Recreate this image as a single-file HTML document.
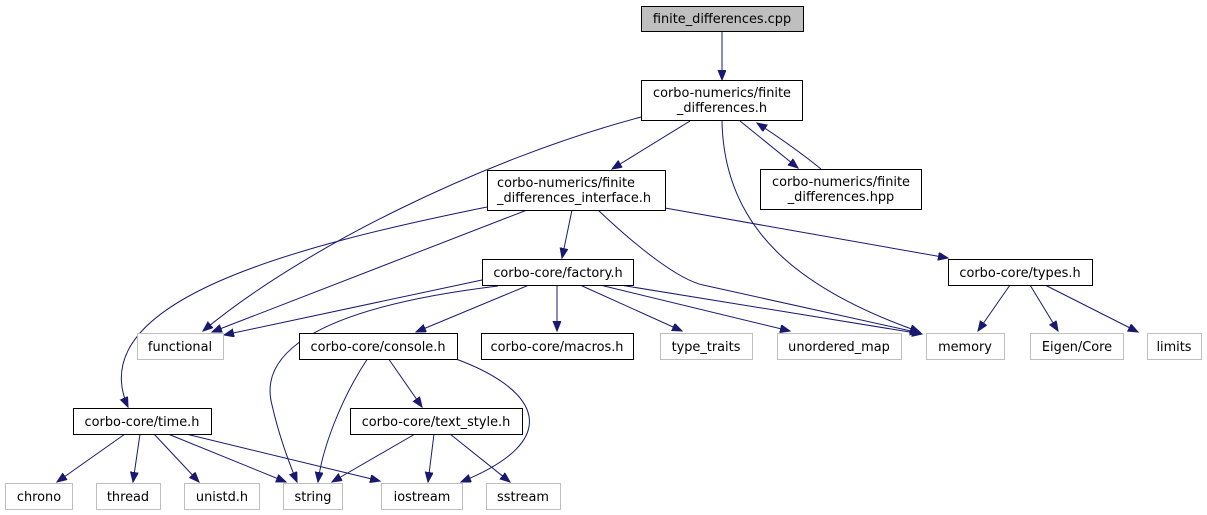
<!DOCTYPE html>
<html><head><meta charset="utf-8"><style>
html,body{margin:0;padding:0;background:#fff;}
svg{display:block;}
text{font-family:"DejaVu Sans","Liberation Sans",sans-serif;font-size:12.9px;fill:#000;}
.b{fill:#fff;stroke:#000;stroke-width:1;}
.g{fill:#fff;stroke:#bfbfbf;stroke-width:1;}
.e{fill:none;stroke:#191970;stroke-width:1;}
</style></head><body>
<svg width="1207" height="515" viewBox="0 0 1207 515" xmlns="http://www.w3.org/2000/svg">
<defs>
<marker id="a" markerUnits="userSpaceOnUse" markerWidth="12" markerHeight="10" refX="10" refY="4" orient="auto">
<path d="M0,0 L10,4 L0,8 z" fill="#191970" stroke="#191970"/>
</marker>
</defs>
<g marker-end="url(#a)">
<path class="e" d="M722,31 L722,80"/>
<path class="e" d="M690,121 L612,169"/>
<path class="e" d="M740,121 L798,168"/>
<path class="e" d="M821,169 C800,152 780,138 757,123"/>
<path class="e" d="M722,121 C724,230 800,290 920,332"/>
<path class="e" d="M641,117 C480,160 300,250 203,331"/>
<path class="e" d="M487,207 C300,245 80,300 128,407"/>
<path class="e" d="M527,210 L212,332"/>
<path class="e" d="M482,280 L224,335"/>
<path class="e" d="M498,286 C300,310 260,360 272,405 C280,440 292,470 297,482"/>
<path class="e" d="M529,285 L416,332"/>
<path class="e" d="M557,285 L557,331"/>
<path class="e" d="M580,285 L682,331"/>
<path class="e" d="M600,285 L790,331"/>
<path class="e" d="M620,285 L922,334"/>
<path class="e" d="M598,210 C640,250 680,280 703,285 L920,333"/>
<path class="e" d="M665,208 L948,258"/>
<path class="e" d="M572,210 L562,258"/>
<path class="e" d="M1010,285 L978,331"/>
<path class="e" d="M1030,285 L1058,331"/>
<path class="e" d="M1045,285 L1138,332"/>
<path class="e" d="M368,358 C340,400 322,450 318,482"/>
<path class="e" d="M388,358 L422,407"/>
<path class="e" d="M456,359 C540,390 565,440 461,482"/>
<path class="e" d="M125,434 L57,482"/>
<path class="e" d="M140,434 L133,482"/>
<path class="e" d="M154,434 L199,482"/>
<path class="e" d="M168,434 L286,482"/>
<path class="e" d="M186,434 L380,481"/>
<path class="e" d="M415,434 L332,482"/>
<path class="e" d="M434,434 L428,482"/>
<path class="e" d="M450,434 L510,482"/>
</g>
<rect x="641.5" y="6.5" width="162" height="25" fill="#bfbfbf" stroke="#000"/>
<text x="722" y="23" text-anchor="middle">finite_differences.cpp</text>
<rect class="b" x="641.5" y="80.5" width="161" height="40"/>
<text x="722" y="97" text-anchor="middle">corbo-numerics/finite</text>
<text x="722" y="112" text-anchor="middle">_differences.h</text>
<rect class="b" x="487.5" y="170.5" width="178" height="40"/>
<text x="497" y="187">corbo-numerics/finite</text>
<text x="497" y="202">_differences_interface.h</text>
<rect class="b" x="760.5" y="169.5" width="161" height="40"/>
<text x="841" y="186" text-anchor="middle">corbo-numerics/finite</text>
<text x="841" y="201" text-anchor="middle">_differences.hpp</text>
<rect class="b" x="482.5" y="259.5" width="151" height="26"/>
<text x="558" y="277" text-anchor="middle">corbo-core/factory.h</text>
<rect class="b" x="948.5" y="259.5" width="144" height="26"/>
<text x="1020" y="277" text-anchor="middle">corbo-core/types.h</text>
<rect class="g" x="137.5" y="333.5" width="86" height="26"/>
<text x="180" y="351" text-anchor="middle">functional</text>
<rect class="b" x="299.5" y="333.5" width="158" height="26"/>
<text x="378" y="351" text-anchor="middle">corbo-core/console.h</text>
<rect class="b" x="481.5" y="333.5" width="152" height="26"/>
<text x="557" y="351" text-anchor="middle">corbo-core/macros.h</text>
<rect class="g" x="660.5" y="333.5" width="92" height="26"/>
<text x="706" y="351" text-anchor="middle">type_traits</text>
<rect class="g" x="777.5" y="333.5" width="124" height="26"/>
<text x="839" y="351" text-anchor="middle">unordered_map</text>
<rect class="g" x="926.5" y="333.5" width="78" height="26"/>
<text x="965" y="351" text-anchor="middle">memory</text>
<rect class="g" x="1030.5" y="333.5" width="93" height="26"/>
<text x="1077" y="351" text-anchor="middle">Eigen/Core</text>
<rect class="g" x="1147.5" y="333.5" width="54" height="26"/>
<text x="1174" y="351" text-anchor="middle">limits</text>
<rect class="b" x="73.5" y="408.5" width="138" height="26"/>
<text x="142" y="426" text-anchor="middle">corbo-core/time.h</text>
<rect class="b" x="350.5" y="408.5" width="172" height="26"/>
<text x="436" y="426" text-anchor="middle">corbo-core/text_style.h</text>
<rect class="g" x="5.5" y="483.5" width="67" height="26"/>
<text x="39" y="501" text-anchor="middle">chrono</text>
<rect class="g" x="96.5" y="483.5" width="64" height="26"/>
<text x="128" y="501" text-anchor="middle">thread</text>
<rect class="g" x="184.5" y="483.5" width="75" height="26"/>
<text x="222" y="501" text-anchor="middle">unistd.h</text>
<rect class="g" x="283.5" y="483.5" width="59" height="26"/>
<text x="313" y="501" text-anchor="middle">string</text>
<rect class="g" x="381.5" y="483.5" width="81" height="26"/>
<text x="422" y="501" text-anchor="middle">iostream</text>
<rect class="g" x="486.5" y="483.5" width="74" height="26"/>
<text x="523" y="501" text-anchor="middle">sstream</text>
</svg>
</body></html>
